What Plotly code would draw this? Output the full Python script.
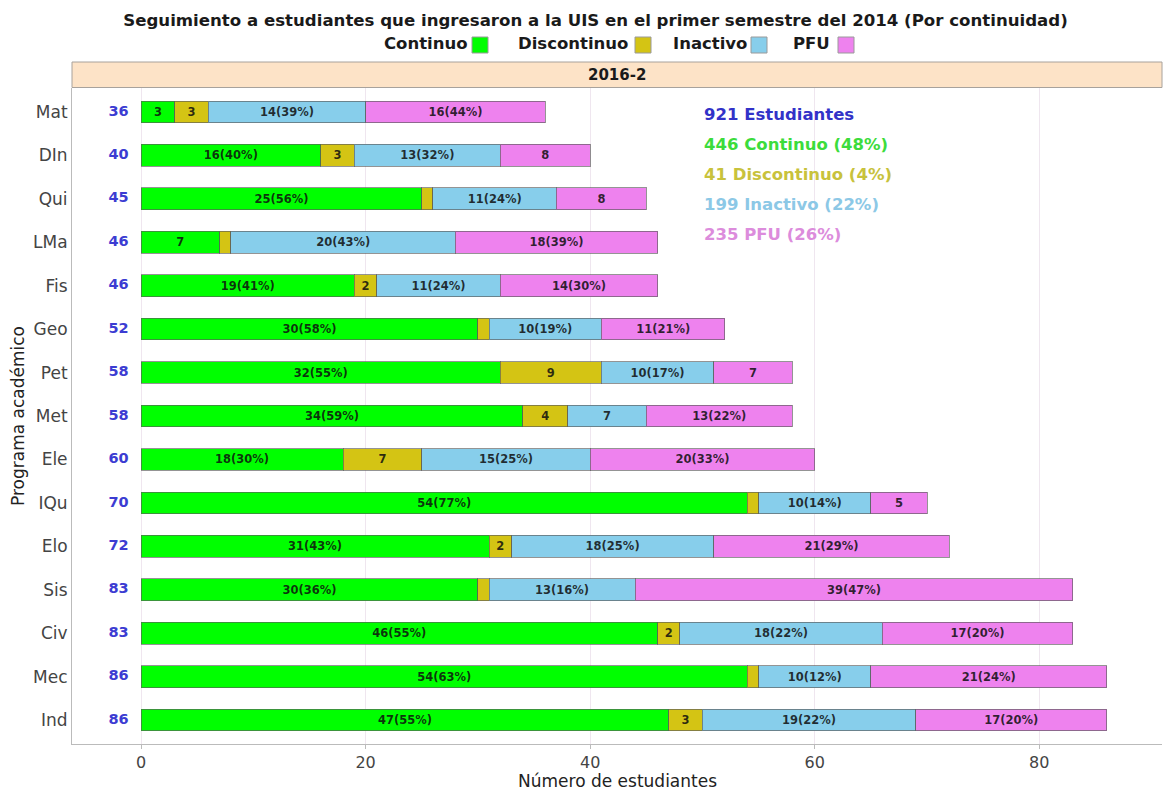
import plotly.graph_objects as go

programas = ["Mat", "DIn", "Qui", "LMa", "Fis", "Geo", "Pet", "Met", "Ele", "IQu", "Elo", "Sis", "Civ", "Mec", "Ind"]
continuo = [3, 16, 25, 7, 19, 30, 32, 34, 18, 54, 31, 30, 46, 54, 47]
discontinuo = [3, 3, 1, 1, 2, 1, 9, 4, 7, 1, 2, 1, 2, 1, 3]
inactivo = [14, 13, 11, 20, 11, 10, 10, 7, 15, 10, 18, 13, 18, 10, 19]
pfu = [16, 8, 8, 18, 14, 11, 7, 13, 20, 5, 21, 39, 17, 21, 17]

estados = ["Continuo", "Discontinuo", "Inactivo", "PFU"]
colores = ["#00FF00", "#D4C414", "#87CEEB", "#EE82EE"]
colores_texto = ["#3CDC3C", "#C8C23C", "#8CC8E6", "#DC8CDC"]
series = [continuo, discontinuo, inactivo, pfu]

totales = [sum(v) for v in zip(*series)]
total_general = sum(totales)

FONT = "DejaVu Sans"


def etiqueta(v, t):
    if v >= 10:
        return f"{v}({round(100 * v / t)}%)"
    if v >= 2:
        return str(v)
    return ""


fig = go.Figure()
for nombre, valores, color in zip(estados, series, colores):
    fig.add_trace(go.Bar(
        y=programas, x=valores, name=nombre, orientation="h",
        marker=dict(color=color, line=dict(color="rgba(90,90,90,0.65)", width=1)),
        width=0.5,
        text=[etiqueta(v, t) for v, t in zip(valores, totales)],
        textposition="inside", insidetextanchor="middle", textangle=0,
        textfont=dict(family=FONT, size=11.5, color="rgba(15,15,15,0.85)", weight="bold"),
        showlegend=False, hoverinfo="x+y+name",
    ))

fig.add_trace(go.Scatter(
    y=programas, x=[-2] * len(programas), mode="text",
    text=[str(t) for t in totales],
    textfont=dict(family=FONT, size=14.5, color="#3C3CD2", weight="bold"),
    showlegend=False, hoverinfo="skip", cliponaxis=False,
))

# summary block
lineas = [(f"{total_general} Estudiantes", "#3232C8")]
for nombre, valores, c in zip(estados, series, colores_texto):
    s = sum(valores)
    lineas.append((f"{s} {nombre} ({round(100 * s / total_general)}%)", c))
ys = [0.05, 0.75, 1.45, 2.14, 2.83]
for (txt, c), yy in zip(lineas, ys):
    fig.add_annotation(x=50, y=yy, xref="x", yref="y", text=txt, showarrow=False,
                       xanchor="left", yanchor="middle",
                       font=dict(family=FONT, size=16.5, color=c, weight="bold"))

L, R, T, B = 72, 3, 88, 49
W, H = 1165, 793
pw, ph = W - L - R, H - T - B


def px(xp):
    return (xp - L) / pw


def py(yp):
    return (H - B - yp) / ph


# facet strip
fig.add_shape(type="rect", xref="paper", yref="paper", x0=0, x1=1, y0=py(87.5), y1=py(62),
              fillcolor="#FDE3C7", line=dict(color="#A8A29C", width=1), layer="below")
fig.add_annotation(xref="paper", yref="paper", x=0.5, y=py(75), text="<b>2016-2</b>",
                   showarrow=False, xanchor="center", yanchor="middle",
                   font=dict(family=FONT, size=15, color="#1A1A1A"))

# legend (label followed by key)
legend_items = [("Continuo", 470, 472), ("Discontinuo", 630, 635), ("Inactivo", 749, 751), ("PFU", 832, 838)]
for (nombre, tx, sx), color in zip(legend_items, colores):
    fig.add_annotation(xref="paper", yref="paper", x=px(tx), y=py(44), text=f"<b>{nombre}</b>",
                       showarrow=False, xanchor="right", yanchor="middle",
                       font=dict(family=FONT, size=16.5, color="#1A1A1A"))
    fig.add_shape(type="rect", xref="paper", yref="paper", x0=px(sx), x1=px(sx + 16),
                  y0=py(53), y1=py(37), fillcolor=color, line=dict(color="#9A9A9A", width=1))

# axis titles
fig.add_annotation(xref="paper", yref="paper", x=px(617), y=py(781), text="Número de estudiantes",
                   showarrow=False, xanchor="center", yanchor="middle",
                   font=dict(family=FONT, size=17, color="#222222"))
fig.add_annotation(xref="paper", yref="paper", x=px(18), y=py(416), text="Programa académico",
                   showarrow=False, xanchor="center", yanchor="middle", textangle=-90,
                   font=dict(family=FONT, size=17, color="#222222"))

fig.update_layout(
    width=W, height=H,
    margin=dict(l=L, r=R, t=T, b=B, autoexpand=False),
    barmode="stack",
    plot_bgcolor="white", paper_bgcolor="white",
    font=dict(family=FONT, color="#333333"),
    title=dict(text="<b>Seguimiento a estudiantes que ingresaron a la UIS en el primer semestre del 2014 (Por continuidad)</b>",
               x=595.5 / W, xref="container", xanchor="center",
               y=1 - 20 / H, yref="container", yanchor="middle",
               font=dict(family=FONT, size=16.6, color="#1A1A1A")),
    uniformtext=dict(minsize=11, mode="show"),
    xaxis=dict(range=[-6.15, 90.93], tickvals=[0, 20, 40, 60, 80], showgrid=True,
               gridcolor="#EFE6EF", gridwidth=1, zeroline=False, showline=True,
               linecolor="#BBBBBB", linewidth=1, ticks="outside", ticklen=4, tickcolor="#BBBBBB",
               ticklabelstandoff=0,
               tickfont=dict(family=FONT, size=16, color="#444444"), automargin=False),
    yaxis=dict(type="category", categoryorder="array", categoryarray=programas,
               range=[14.55, -0.55], showgrid=False, zeroline=False, showline=True,
               linecolor="#BBBBBB", linewidth=1, ticks="", automargin=False,
               tickfont=dict(family=FONT, size=17, color="#444444")),
)

fig.write_html("out.html", config={"displayModeBar": False},
               post_script="document.body.style.margin='0';document.body.style.overflow='hidden';")
